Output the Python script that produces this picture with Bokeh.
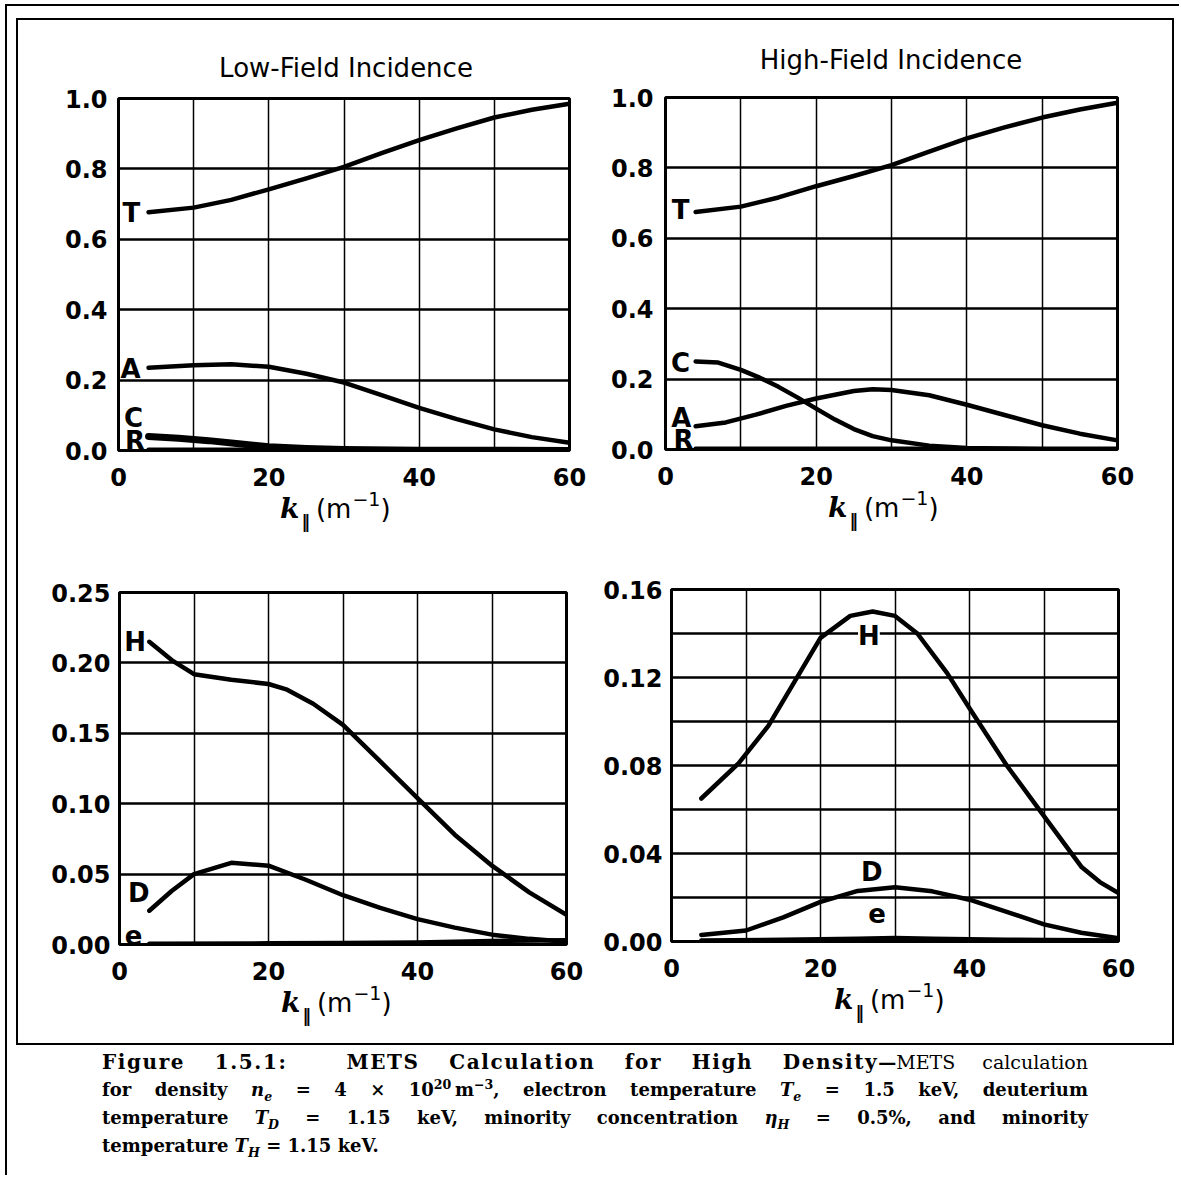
from bokeh.plotting import figure
from bokeh.models import Range1d, FixedTicker, PrintfTickFormatter, Label, Div, Spacer
from bokeh.layouts import row, column
from bokeh.embed import file_html
from bokeh.resources import INLINE

# ---------------- data ----------------
titles = ["Low-Field Incidence", "High-Field Incidence"]
x_ticks = [0, 20, 40, 60]
x_grid = [10, 20, 30, 40, 50]

top_y_ticks = [0.0, 0.2, 0.4, 0.6, 0.8, 1.0]
bl_y_ticks = [0.0, 0.05, 0.10, 0.15, 0.20, 0.25]
br_y_ticks = [0.0, 0.04, 0.08, 0.12, 0.16]
br_y_grid = [0.02, 0.04, 0.06, 0.08, 0.10, 0.12, 0.14]

# Low-field incidence, fractions
k_lf_T = [4, 10, 15, 20, 25, 30, 35, 40, 45, 50, 55, 60]
lf_T = [0.677, 0.690, 0.712, 0.742, 0.773, 0.806, 0.845, 0.882, 0.915, 0.946, 0.968, 0.985]
k_lf_A = [4, 10, 15, 20, 25, 30, 35, 40, 45, 50, 55, 60]
lf_A = [0.235, 0.242, 0.245, 0.238, 0.218, 0.193, 0.157, 0.121, 0.089, 0.060, 0.038, 0.022]
k_lf_C = [4, 8, 12, 16, 20, 25, 30, 40, 50, 60]
lf_C = [0.040, 0.035, 0.028, 0.019, 0.011, 0.006, 0.003, 0.001, 0.0005, 0.0003]
k_lf_R = [4, 20, 40, 60]
lf_R = [0.002, 0.002, 0.002, 0.002]

# High-field incidence, fractions
k_hf_T = [4, 10, 15, 20, 25, 30, 35, 40, 45, 50, 55, 60]
hf_T = [0.675, 0.690, 0.716, 0.748, 0.777, 0.808, 0.846, 0.884, 0.915, 0.943, 0.966, 0.985]
k_hf_C = [4, 7, 10, 12.5, 15, 17.5, 20, 22.5, 25, 27.5, 30, 35, 40, 50, 60]
hf_C = [0.250, 0.247, 0.226, 0.204, 0.178, 0.148, 0.116, 0.085, 0.058, 0.038, 0.026, 0.011, 0.004, 0.001, 0.0005]
k_hf_A = [4, 8, 12, 16, 20, 25, 27.5, 30, 35, 40, 45, 50, 55, 60]
hf_A = [0.066, 0.077, 0.099, 0.124, 0.145, 0.166, 0.171, 0.169, 0.154, 0.127, 0.098, 0.069, 0.045, 0.026]
k_hf_R = [4, 20, 40, 60]
hf_R = [0.002, 0.002, 0.002, 0.002]

# Low-field incidence, power partition
k_lf_H = [4, 7, 10, 15, 20, 22.5, 26, 30, 35, 40, 45, 50, 55, 60]
lf_H = [0.215, 0.202, 0.192, 0.188, 0.185, 0.181, 0.171, 0.156, 0.130, 0.104, 0.078, 0.056, 0.037, 0.021]
k_lf_D = [4, 7, 10, 15, 20, 25, 30, 35, 40, 45, 50, 55, 60]
lf_D = [0.024, 0.038, 0.050, 0.058, 0.056, 0.046, 0.035, 0.026, 0.018, 0.012, 0.007, 0.004, 0.002]
k_lf_e = [4, 20, 30, 40, 50, 60]
lf_e = [0.0005, 0.0008, 0.001, 0.0015, 0.0025, 0.003]

# High-field incidence, power partition
k_hf_H = [4, 9, 13, 16.5, 20, 24, 27, 30, 33, 37, 40, 45, 50, 55, 57.5, 60]
hf_H = [0.065, 0.081, 0.098, 0.118, 0.138, 0.148, 0.150, 0.148, 0.140, 0.122, 0.106, 0.080, 0.057, 0.034, 0.027, 0.022]
k_hf_D = [4, 10, 15, 20, 25, 30, 35, 40, 45, 50, 55, 60]
hf_D = [0.003, 0.005, 0.011, 0.018, 0.023, 0.0247, 0.0228, 0.019, 0.0135, 0.0078, 0.004, 0.0015]
k_hf_e = [4, 15, 25, 30, 35, 45, 60]
hf_e = [0.0004, 0.0008, 0.0013, 0.0016, 0.0013, 0.0008, 0.0004]

x_label_html = ('<i style="font-family:\'DejaVu Serif\';font-weight:bold;font-size:28px">k</i>'
                '<sub style="font-weight:bold;font-size:17px;line-height:0;vertical-align:-10px;'
                'margin-left:2px">\u2016</sub>'
                '<span style="margin-left:6px">(m<sup style="font-size:19px;line-height:0;'
                'vertical-align:12px;margin-left:1px">\u22121</sup>)</span>')

caption_lines = [
    '<span style="font-size:20px;letter-spacing:1.6px">Figure 1.5.1:&nbsp; METS Calculation for High Density</span>&mdash;<span style="font-weight:normal;font-size:19px">METS calculation</span>',
    'for density <i>n</i><sub><i>e</i></sub> = 4 &times; 10<sup>20</sup>&thinsp;m<sup>&minus;3</sup>, electron temperature <i>T</i><sub><i>e</i></sub> = 1.5 keV, deuterium',
    'temperature <i>T</i><sub><i>D</i></sub> = 1.15 keV, minority concentration <i>&eta;</i><sub><i>H</i></sub> = 0.5%, and minority',
    'temperature <i>T</i><sub><i>H</i></sub> = 1.15 keV.',
]

SANS = "DejaVu Sans"


def panel(width, height, mb, ymax, yticks, ygrid, yfmt, ystandoff):
    p = figure(width=width, height=height, x_range=Range1d(0, 60), y_range=Range1d(0, ymax),
               output_backend="svg", toolbar_location=None, title=None,
               min_border_left=mb[0], min_border_right=mb[1],
               min_border_top=mb[2], min_border_bottom=mb[3])
    p.background_fill_color = "white"
    p.border_fill_color = "white"
    p.outline_line_color = "black"
    p.outline_line_width = 3
    p.xaxis.ticker = FixedTicker(ticks=x_ticks)
    p.yaxis.ticker = FixedTicker(ticks=yticks)
    p.yaxis.formatter = PrintfTickFormatter(format=yfmt)
    p.xgrid.ticker = FixedTicker(ticks=x_grid)
    p.ygrid.ticker = FixedTicker(ticks=ygrid)
    p.xgrid.grid_line_color = "black"
    p.xgrid.grid_line_width = 1.5
    p.ygrid.grid_line_color = "black"
    p.ygrid.grid_line_width = 2.5
    for ax in p.axis:
        ax.axis_line_color = None
        ax.major_tick_line_color = None
        ax.minor_tick_line_color = None
        ax.major_tick_out = 0
        ax.major_tick_in = 0
        ax.major_label_text_font = SANS
        ax.major_label_text_font_style = "bold"
        ax.major_label_text_font_size = "24px"
        ax.major_label_text_color = "black"
    p.xaxis.major_label_standoff = 17
    p.yaxis.major_label_standoff = ystandoff
    return p


def curve(p, k, v, w=4.5):
    p.line(k, v, line_width=w, line_color="black", line_cap="round", line_join="round")


def tag(p, x, y, text, bg=None):
    lab = Label(x=x, y=y, text=text, text_font=SANS, text_font_size="26px",
                text_font_style="bold", text_align="center", text_baseline="middle",
                text_color="black")
    if bg:
        lab.background_fill_color = bg
    p.add_layout(lab)


def title_div(width, height, cx, cy, text):
    html = (f'<div style="position:relative;width:{width}px;height:{height}px;">'
            f'<div style="position:absolute;left:{cx}px;top:{cy - 15}px;transform:translateX(-50%);'
            f'white-space:nowrap;font-family:\'DejaVu Sans\';font-size:26px;line-height:30px;'
            f'color:black;">{text}</div></div>')
    return Div(text=html, width=width, height=height, margin=0)


def xlabel_div(width, height, left):
    # baseline of the label sits 22 px below the top of this strip
    html = (f'<div style="position:relative;width:{width}px;height:{height}px;">'
            f'<div style="position:absolute;left:{left}px;top:0px;white-space:nowrap;'
            f'font-family:\'DejaVu Sans\';font-size:26px;line-height:26px;color:black;">'
            f'{x_label_html}</div></div>')
    return Div(text=html, width=width, height=height, margin=0)


# top-left
f1 = panel(581, 410, (100, 30, 12, 46), 1.0, top_y_ticks, top_y_ticks, "%.1f", 11)
curve(f1, k_lf_T, lf_T)
curve(f1, k_lf_A, lf_A)
curve(f1, k_lf_C, lf_C, 7)
curve(f1, k_lf_R, lf_R)
tag(f1, 1.7, 0.676, "T")
tag(f1, 1.6, 0.231, "A")
tag(f1, 2.0, 0.092, "C")
tag(f1, 2.2, 0.027, "R")
c1 = column(title_div(581, 66, 328, 48, titles[0]), f1, xlabel_div(581, 43, 100 + 225 - 63))

# top-right
f2 = panel(573, 410, (66, 55, 12, 46), 1.0, top_y_ticks, top_y_ticks, "%.1f", 12)
curve(f2, k_hf_T, hf_T)
curve(f2, k_hf_C, hf_C)
curve(f2, k_hf_A, hf_A)
curve(f2, k_hf_R, hf_R)
tag(f2, 2.0, 0.680, "T")
tag(f2, 2.0, 0.246, "C")
tag(f2, 2.1, 0.090, "A")
tag(f2, 2.4, 0.027, "R")
c2 = column(title_div(573, 65, 292, 40, titles[1]), f2, xlabel_div(573, 44, 66 + 226 - 63))

# bottom-left
f3 = panel(581, 451, (101, 33, 53, 46), 0.25, bl_y_ticks, bl_y_ticks, "%.2f", 9)
curve(f3, k_lf_H, lf_H)
curve(f3, k_lf_D, lf_D)
curve(f3, k_lf_e, lf_e)
tag(f3, 2.1, 0.2145, "H")
tag(f3, 2.6, 0.0367, "D")
tag(f3, 1.9, 0.007, "e")
c3 = column(f3, xlabel_div(581, 53, 101 + 223 - 61))

# bottom-right
f4 = panel(573, 448, (72, 54, 50, 46), 0.16, br_y_ticks, br_y_grid, "%.2f", 9)
curve(f4, k_hf_H, hf_H)
curve(f4, k_hf_D, hf_D)
curve(f4, k_hf_e, hf_e)
tag(f4, 26.5, 0.139, "H", bg="white")
tag(f4, 26.9, 0.0318, "D")
tag(f4, 27.6, 0.0129, "e")
c4 = column(f4, xlabel_div(573, 56, 72 + 223 - 60))


def bar(w, h):
    return Div(text="", width=w, height=h, margin=0, styles={"background-color": "black"})


line_html = []
for i, ln in enumerate(caption_lines):
    last = i == len(caption_lines) - 1
    align = "text-align:left;" if last else "text-align:justify;text-align-last:justify;"
    line_html.append(f'<div style="{align}height:28px;white-space:nowrap;">{ln}</div>')
caption_html = (
    '<div style="box-sizing:content-box;font-family:\'DejaVu Serif\';font-weight:bold;'
    'font-size:18px;line-height:28px;color:black;padding:3px 0 0 86px;width:986px;">'
    '<style>sub,sup{font-size:0.7em;line-height:0;}</style>'
    + "".join(line_html) + '</div>'
)
caption = Div(text=caption_html, width=1158, height=130, margin=0)

grid = column(row(c1, c2), row(c3, c4))
inner_box = column(bar(1158, 2), row(bar(2, 1023), grid, bar(2, 1023)), bar(1158, 2))
right_col = column(Spacer(width=1158, height=12), inner_box, caption)
page = column(bar(1174, 2), row(bar(2, 1169), Spacer(width=9, height=1169), right_col))
root = column(Spacer(width=1179, height=4), row(Spacer(width=5, height=1171), page))

open("out.html", "w").write(file_html(root, INLINE))
